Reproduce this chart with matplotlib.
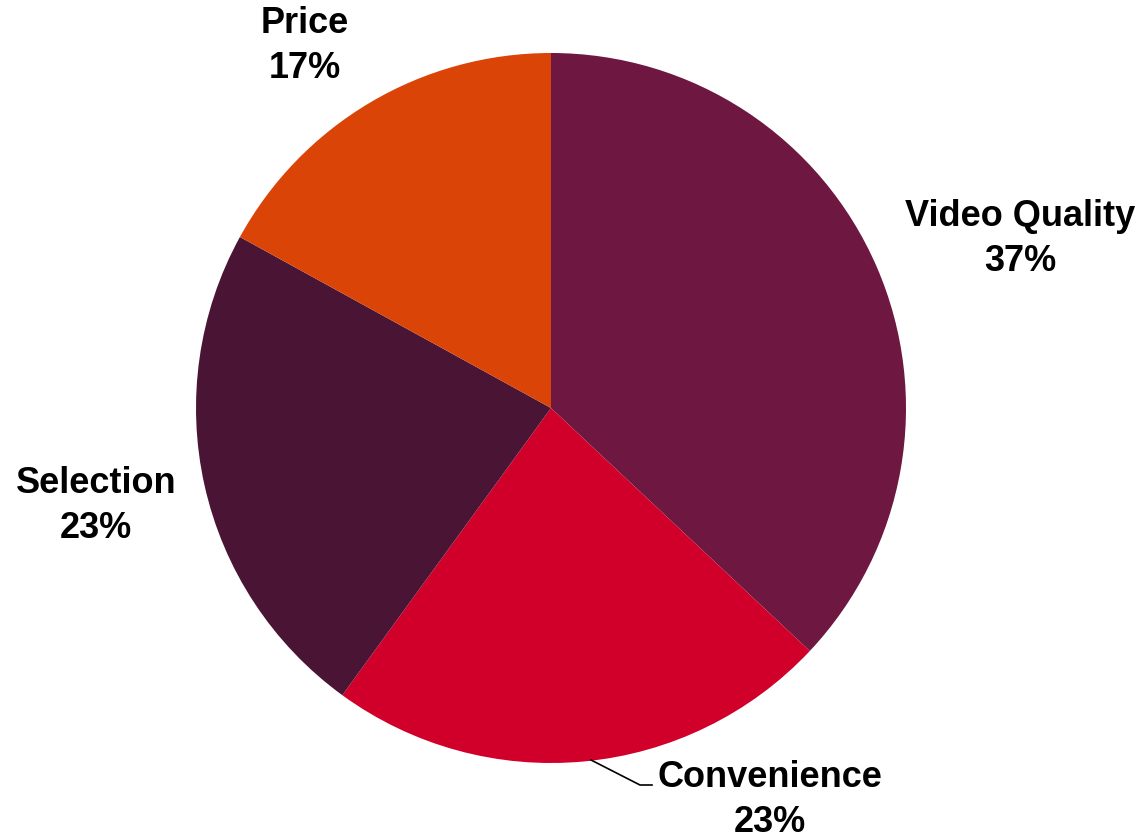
import matplotlib.pyplot as plt

labels = ['Video Quality', 'Convenience', 'Selection', 'Price']
shares = [37, 23, 23, 17]
colors = ['#6E1740', '#D0002A', '#4A1535', '#DB4407']

W, H = 1145, 839
cx, cy, r = 551, 408, 355

fig = plt.figure(figsize=(W / 100, H / 100), dpi=100)
fig.patch.set_facecolor('white')
ax = fig.add_axes([(cx - r) / W, (H - cy - r) / H, 2 * r / W, 2 * r / H])
ax.pie(shares, colors=colors, startangle=90, counterclock=False, radius=1,
       wedgeprops=dict(linewidth=0))
ax.set_xlim(-1, 1)
ax.set_ylim(-1, 1)
ax.set_aspect('equal')
ax.axis('off')

# label positions in figure pixels (x, y from top)
label_pos = [(1020, 239), (770, 800), (96, 506), (305, 46)]
font = dict(fontsize=26, fontweight='bold', family=['Liberation Sans', 'DejaVu Sans'],
            ha='center', va='center', linespacing=1.4)
for lab, val, (px, py) in zip(labels, shares, label_pos):
    fig.text(px / W, 1 - py / H, f'{lab}\n{val}%', **font)

# leader line for Convenience
fig.add_artist(plt.Line2D([591 / W, 640 / W, 652 / W],
                          [1 - 760 / H, 1 - 785 / H, 1 - 785 / H],
                          color='black', linewidth=1.2))

fig.savefig('out.png', dpi=100)
